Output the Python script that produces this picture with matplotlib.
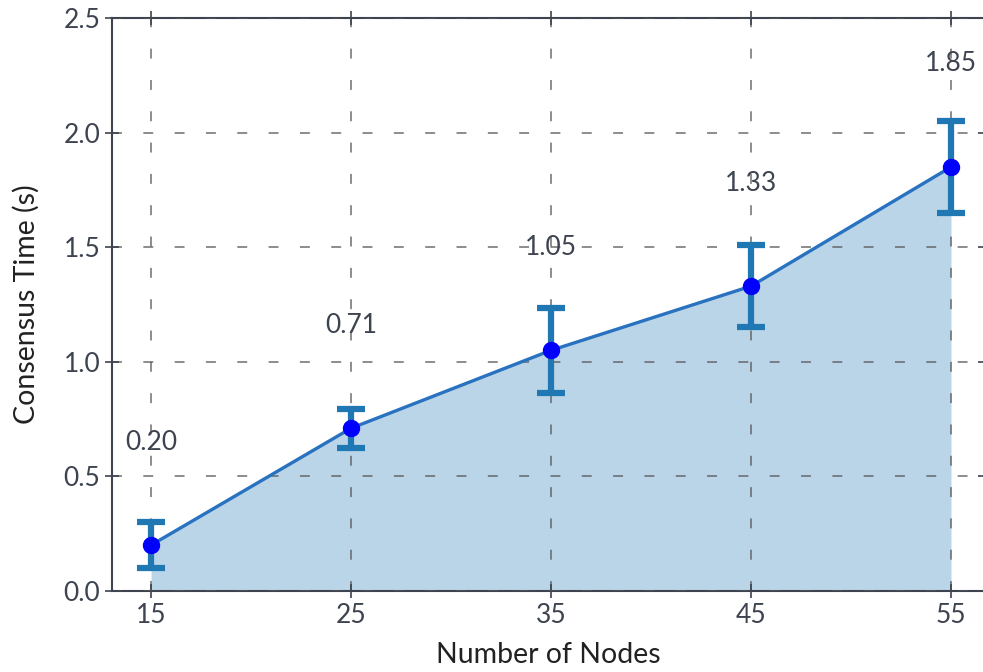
import matplotlib
matplotlib.use('Agg')
import matplotlib.pyplot as plt

# Consensus time vs. network size
nodes = [15, 25, 35, 45, 55]
consensus_time = [0.20, 0.71, 1.05, 1.33, 1.85]
time_err = [0.10, 0.085, 0.185, 0.18, 0.20]

TEXT = '#3d4450'
LABEL = '#222222'
plt.rcParams['font.family'] = ['Lato', 'DejaVu Sans']

fig = plt.figure(figsize=(9.83, 6.72), dpi=100)
ax = fig.add_axes([112 / 983, 81 / 672, 873 / 983, 573 / 672])

ax.fill_between(nodes, consensus_time, 0, color='#1f77b4', alpha=0.3, lw=0, zorder=1)
ax.plot(nodes, consensus_time, color='#2872c0', lw=2.4, zorder=3)
ax.errorbar(nodes, consensus_time, yerr=time_err, fmt='none', ecolor='#1f77b4',
            elinewidth=4.5, capsize=10, capthick=4.5, zorder=4)
ax.plot(nodes, consensus_time, 'o', color='blue', markersize=11.5, zorder=5)

# value labels above each point
for x, y in zip(nodes, consensus_time):
    ax.text(x, y + 0.45, f'{y:.2f}', ha='center', va='center', color=TEXT, fontsize=19)

ax.set_xlim(13.05, 56.7)
ax.set_ylim(0, 2.5)
ax.set_xticks(nodes)
ax.set_yticks([0.0, 0.5, 1.0, 1.5, 2.0, 2.5])
ax.set_xlabel('Number of Nodes', color=LABEL, fontsize=20.5, labelpad=10)
ax.set_ylabel('Consensus Time (s)', color=LABEL, fontsize=20.5, labelpad=17)

ax.grid(True, color='#555555', linestyle=(0, (6.5, 14)), lw=1.1, alpha=0.85, zorder=2)
ax.set_axisbelow(False)
ax.tick_params(direction='inout', length=10, width=1.2, colors='#3d4450',
               labelcolor=TEXT, labelsize=19, top=True, right=True)
for sp in ax.spines.values():
    sp.set_color('#3d4450')
    sp.set_linewidth(1.5)

fig.savefig('out.png', dpi=100, facecolor='white')
